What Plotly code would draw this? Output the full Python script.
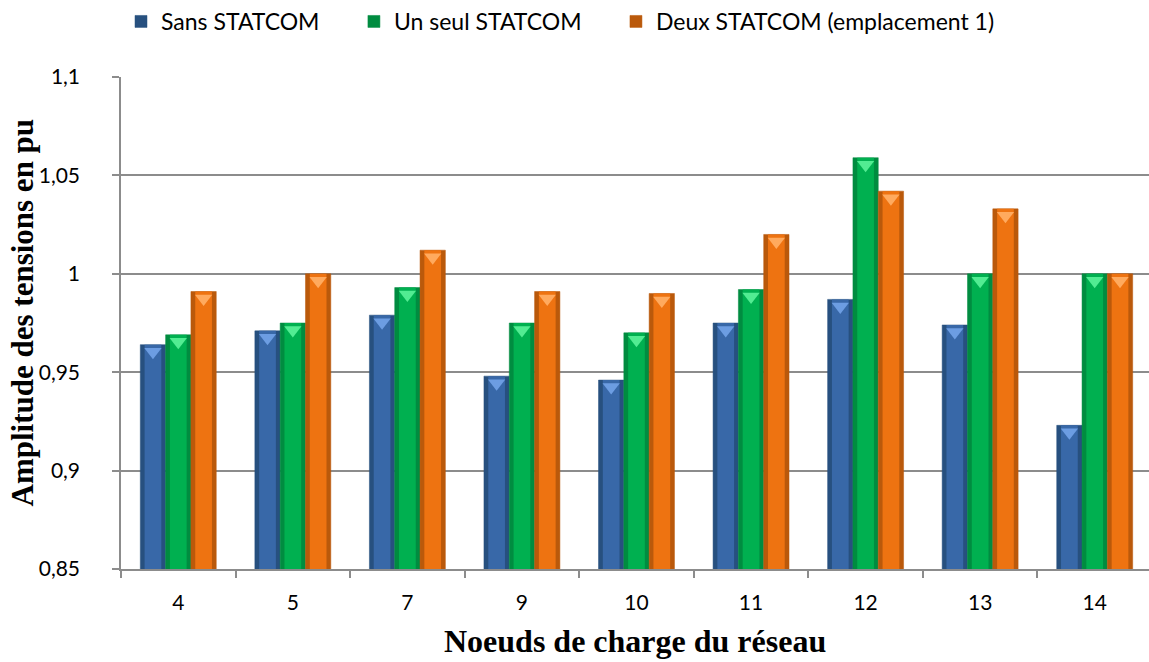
import plotly.graph_objects as go

# Load nodes of the network and voltage magnitudes (pu) for each configuration
nodes = ["4", "5", "7", "9", "10", "11", "12", "13", "14"]
sans_statcom = [0.964, 0.971, 0.979, 0.948, 0.946, 0.975, 0.987, 0.974, 0.923]
un_statcom = [0.969, 0.975, 0.993, 0.975, 0.970, 0.992, 1.059, 1.000, 1.000]
deux_statcom = [0.991, 1.000, 1.012, 0.991, 0.990, 1.020, 1.042, 1.033, 1.000]

series_names = ["Sans STATCOM", "Un seul STATCOM", "Deux STATCOM (emplacement 1)"]
series_values = [sans_statcom, un_statcom, deux_statcom]

y_ticks = [0.85, 0.9, 0.95, 1.0, 1.05, 1.1]
y_tick_labels = ["0,85", "0,9", "0,95", "1", "1,05", "1,1"]

# (edge, body, bevel highlight) colours for each series
palette = [
    ("#27507F", "#3868A8", "#6C9DE2"),
    ("#008C40", "#00B050", "#52EC92"),
    ("#BA590B", "#EE7311", "#FFAA5E"),
]

GRAY = "#8C8C8C"
SANS = "Lato, 'Open Sans', sans-serif"
SERIF = "'Liberation Serif', 'Times New Roman', serif"
PAD = "\u00a0" * 5     # extra room after each legend entry

bar_w = 0.221          # width of one bar, in category units
x_idx = list(range(len(nodes)))

fig = go.Figure()
for k, (name, vals) in enumerate(zip(series_names, series_values)):
    edge, body, light = palette[k]
    off = -1.5 * bar_w + k * bar_w
    # darker full-width bar: gives the shaded sides
    fig.add_trace(go.Bar(
        x=x_idx, y=vals, base=0, name=name + PAD, width=bar_w, offset=off,
        marker=dict(color=edge, line=dict(color=edge, width=0.5)),
        legendgroup=name, showlegend=True,
    ))
    # lighter inner body
    fig.add_trace(go.Bar(
        x=x_idx, y=vals, base=0, width=bar_w * 0.66, offset=off + bar_w * 0.17,
        marker=dict(color=body, line=dict(width=0)),
        legendgroup=name, showlegend=False, hoverinfo="skip",
    ))
    # bevel triangle hanging from the top of each bar
    fig.add_trace(go.Scatter(
        x=[i + off + bar_w / 2 for i in x_idx], y=vals, mode="markers",
        marker=dict(symbol="triangle-down", angle=0, standoff=7, size=15,
                    color=light, line=dict(width=0)),
        legendgroup=name, showlegend=False, hoverinfo="skip",
    ))

fig.update_layout(
    width=1149, height=662,
    margin=dict(l=121, r=0, t=77, b=93),
    paper_bgcolor="white", plot_bgcolor="white",
    barmode="overlay",
    font=dict(family=SANS, size=20, color="#000000"),
    showlegend=True,
    legend=dict(orientation="h", x=0.0, xref="paper", y=1.0, yref="container",
                yanchor="top", xanchor="left",
                font=dict(family=SANS, size=23, color="#000000"),
                itemclick=False, traceorder="normal", itemwidth=30),
)

fig.update_xaxes(
    range=[-0.5, 8.474], tickvals=x_idx, ticktext=nodes,
    showgrid=False, zeroline=False,
    showline=True, linecolor=GRAY, linewidth=1.5,
    ticks="", ticklen=0,
    tickfont=dict(family=SANS, size=21), ticklabelstandoff=14,
    # boundary tick marks between categories
    minor=dict(tickvals=[i - 0.5 for i in x_idx] + [8.5],
               ticks="outside", ticklen=7, tickcolor=GRAY,
               tickwidth=1.5, showgrid=False),
)

fig.update_yaxes(
    range=[0.85, 1.1], tickvals=y_ticks, ticktext=y_tick_labels,
    showgrid=True, gridcolor=GRAY, gridwidth=1.5, zeroline=False,
    showline=True, linecolor=GRAY, linewidth=1.5,
    ticks="outside", ticklen=7, tickcolor=GRAY, tickwidth=1.5,
    tickfont=dict(family=SANS, size=21), ticklabelstandoff=28,
)

# axis titles
fig.add_annotation(text="<b>Noeuds de charge du réseau</b>", xref="paper", yref="paper",
                   x=0.5, y=-0.187, xanchor="center", yanchor="bottom", showarrow=False,
                   font=dict(family=SERIF, size=32, color="#000000"))
fig.add_annotation(text="<b>Amplitude des tensions en pu</b>", xref="paper", yref="paper",
                   x=-0.096, y=0.522, xanchor="center", yanchor="middle", showarrow=False,
                   textangle=-90, font=dict(family=SERIF, size=31, color="#000000"))

fig.write_html("out.html")
